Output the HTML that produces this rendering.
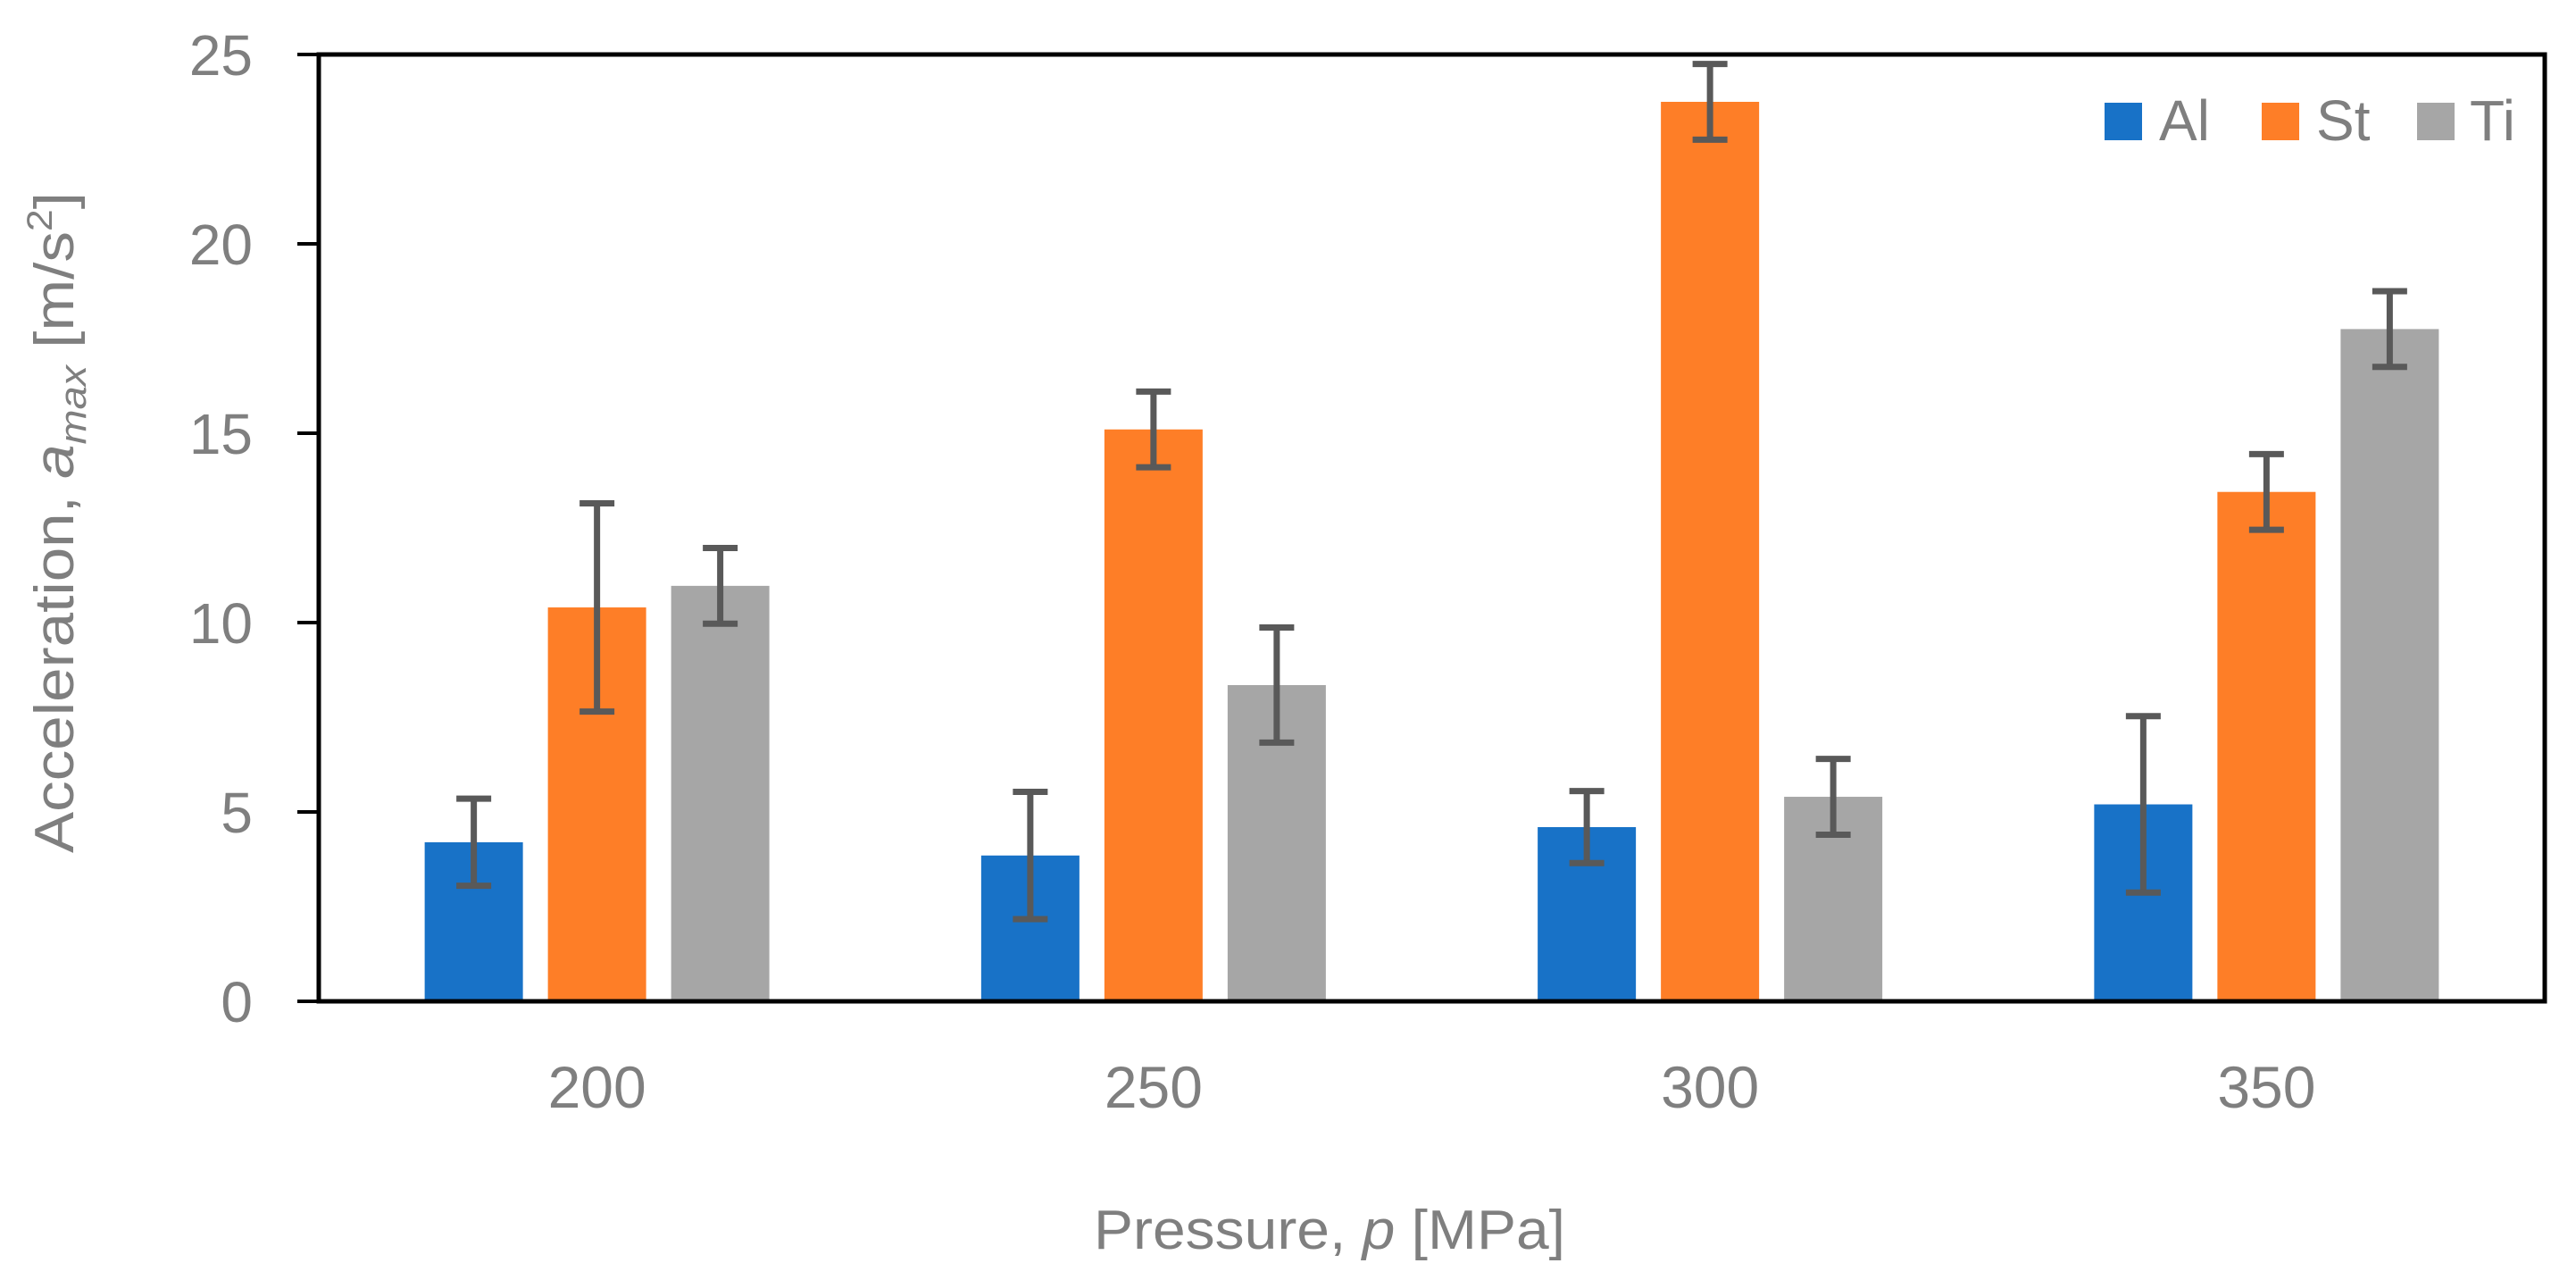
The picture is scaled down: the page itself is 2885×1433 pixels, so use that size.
<!DOCTYPE html>
<html><head><meta charset="utf-8"><style>
html,body{margin:0;padding:0;background:#fff;}
svg{display:block;}
text{font-family:"Liberation Sans",sans-serif;fill:#7f7f7f;}
</style></head><body>
<svg id="chart" width="2885" height="1433" viewBox="0 0 2885 1433">
<g id="plot"></g>
<text x="1489" y="1398" font-size="62" text-anchor="middle" textLength="528" lengthAdjust="spacingAndGlyphs">Pressure, <tspan font-style="italic">p</tspan> [MPa]</text>
<text transform="translate(82,585) rotate(-90)" font-size="62" text-anchor="middle" textLength="740" lengthAdjust="spacingAndGlyphs">Acceleration, <tspan font-style="italic">a</tspan><tspan font-style="italic" font-size="42" dy="14">max</tspan><tspan dy="-14"> [m/s</tspan><tspan font-size="40" dy="-24">2</tspan><tspan dy="24">]</tspan></text>
<g>
<rect x="2357" y="115" width="42" height="42" fill="#1872c7"/>
<text x="2418" y="157" font-size="64">Al</text>
<rect x="2533" y="115" width="42" height="42" fill="#fe7e27"/>
<text x="2594" y="157" font-size="64">St</text>
<rect x="2707" y="115" width="42" height="42" fill="#a6a6a6"/>
<text x="2766" y="157" font-size="64">Ti</text>
</g>
</svg>
<script>
const categories = ["200", "250", "300", "350"];
const seriesNames = ["Al", "St", "Ti"];
const alValues = [4.2, 3.85, 4.6, 5.2];
const stValues = [10.4, 15.1, 23.75, 13.45];
const tiValues = [10.97, 8.35, 5.4, 17.75];
const alErr = [1.15, 1.68, 0.95, 2.33];
const stErr = [2.75, 1.0, 1.0, 1.0];
const tiErr = [1.0, 1.52, 1.0, 1.0];
const yTicks = [0, 5, 10, 15, 20, 25];

const NS = "http://www.w3.org/2000/svg";
const plot = document.getElementById("plot");
const L = 357, R = 2850, T = 61, B = 1121, yMax = 25;
const colors = ["#1872c7", "#fe7e27", "#a6a6a6"];
const bandW = (R - L) / categories.length;
function xCenter(i) { return L + bandW * (i + 0.5); }
function yPos(v) { return B - (v / yMax) * (B - T); }
function mk(tag, attrs) { const e = document.createElementNS(NS, tag); for (const k in attrs) e.setAttribute(k, attrs[k]); plot.appendChild(e); return e; }

// ticks
yTicks.forEach(t => {
  const y = yPos(t);
  const tk = mk("line", {x1: 333, x2: L, y1: y, y2: y, stroke: "#000", "stroke-width": 4});
  
  
  const lb = mk("text", {x: 283, y: y + 23, "font-size": 64, "text-anchor": "end"});
  lb.textContent = String(t);
  
  
});

const vals = [alValues, stValues, tiValues];
const errs = [alErr, stErr, tiErr];
const offsets = [-138, 0, 138];
const bw = 110;
categories.forEach((c, i) => {
  const cx = xCenter(i);
  const lb = mk("text", {x: cx, y: 1240, "font-size": 66, "text-anchor": "middle"});
  lb.textContent = c;
  
  
  for (let s = 0; s < 3; s++) {
    const v = vals[s][i], e = errs[s][i];
    const bx = cx + offsets[s];
    const bar = mk("rect", {x: bx - bw / 2, y: yPos(v), width: bw, height: B - yPos(v), fill: colors[s]});
    
    
    const g = document.createElementNS(NS, "g");
    
    
    plot.appendChild(g);
    const yt = yPos(v + e), yb = yPos(v - e);
    [[bx, bx, yt, yb], [bx - 19.5, bx + 19.5, yt, yt], [bx - 19.5, bx + 19.5, yb, yb]].forEach(p => {
      const ln = document.createElementNS(NS, "line");
      ln.setAttribute("x1", p[0]); ln.setAttribute("x2", p[1]); ln.setAttribute("y1", p[2]); ln.setAttribute("y2", p[3]);
      ln.setAttribute("stroke", "#595959"); ln.setAttribute("stroke-width", 7);
      g.appendChild(ln);
    });
  }
});
// frame
const fr = mk("rect", {x: L, y: T, width: R - L, height: B - T, fill: "none", stroke: "#000", "stroke-width": 5});


</script>
</body></html>
